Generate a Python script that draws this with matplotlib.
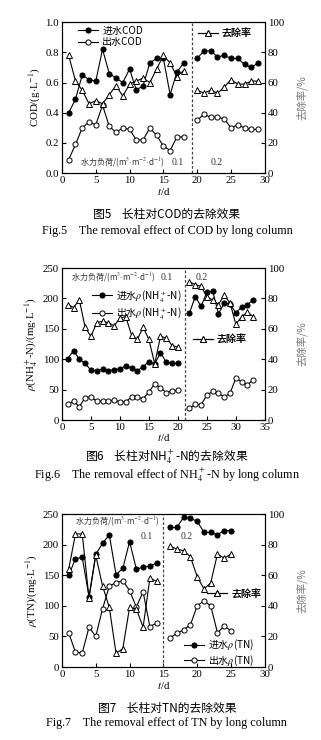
import matplotlib.pyplot as plt
import numpy as np
from matplotlib.lines import Line2D

plt.rcParams['font.family'] = ['Liberation Serif', 'Noto Sans CJK SC']
plt.rcParams['mathtext.fontset'] = 'stix'
plt.rcParams['font.size'] = 7.5
plt.rcParams['xtick.direction'] = 'in'
plt.rcParams['ytick.direction'] = 'in'
plt.rcParams['axes.linewidth'] = 0.8
plt.rcParams['xtick.major.size'] = 3
plt.rcParams['ytick.major.size'] = 3

# ---- COD ----
dias_cod1 = np.arange(1, 19)
cod_in1 = [0.40, 0.49, 0.65, 0.62, 0.61, 0.82, 0.66, 0.63, 0.60, 0.69, 0.55, 0.58, 0.73, 0.76, 0.76, 0.52, 0.67, 0.73]
cod_out1 = [0.09, 0.19, 0.30, 0.34, 0.32, 0.45, 0.31, 0.27, 0.30, 0.29, 0.22, 0.22, 0.30, 0.25, 0.18, 0.15, 0.24, 0.24]
cod_rem1 = [78, 61, 55, 46, 48, 46, 52, 58, 51, 59, 61, 63, 60, 69, 78, 73, 64, 68]
dias_cod2 = np.arange(20, 30)
cod_in2 = [0.76, 0.81, 0.81, 0.77, 0.78, 0.76, 0.76, 0.72, 0.70, 0.73]
cod_out2 = [0.35, 0.39, 0.37, 0.37, 0.36, 0.30, 0.32, 0.30, 0.29, 0.29]
cod_rem2 = [55, 53, 55, 53, 57, 62, 59, 59, 61, 61]

# ---- NH4+-N ----
dias_nh1 = np.arange(1, 21)
nh_in1 = [101, 114, 100, 93, 82, 81, 84, 81, 83, 84, 89, 86, 81, 88, 96, 92, 111, 95, 93, 93]
nh_out1 = [26, 31, 22, 37, 38, 31, 31, 31, 33, 30, 30, 38, 38, 35, 46, 60, 53, 45, 48, 49]
nh_rem1 = [76, 74, 79, 61, 55, 64, 65, 64, 62, 67, 68, 56, 53, 61, 53, 37, 55, 54, 49, 48]
dias_nh2 = np.arange(22, 34)
nh_in2 = [176, 203, 187, 210, 212, 175, 192, 191, 176, 186, 190, 198]
nh_out2 = [19, 26, 25, 41, 47, 44, 38, 44, 69, 63, 58, 66]
nh_rem2 = [91, 89, 88, 81, 79, 76, 82, 77, 63, 68, 71, 68]

# ---- TN ----
dias_tn1 = np.arange(1, 15)
tn_in1 = [150, 177, 179, 115, 184, 202, 216, 151, 161, 205, 160, 163, 165, 170]
tn_out1 = [56, 24, 23, 65, 50, 95, 132, 138, 141, 125, 98, 123, 66, 72]
tn_rem1 = [64, 87, 87, 45, 73, 53, 39, 9, 12, 39, 38, 26, 58, 56]
dias_tn2 = np.arange(16, 26)
tn_in2 = [228, 228, 245, 243, 238, 220, 220, 216, 223, 223]
tn_out2 = [48, 55, 61, 69, 100, 108, 100, 56, 67, 59]
tn_rem2 = [79, 77, 76, 72, 59, 51, 55, 74, 71, 74]

cjk = ['Noto Sans CJK SC', 'DejaVu Sans']
gris = '#777777'
lw = 0.8
ms = 3.7
tam = 7.8

fig = plt.figure(figsize=(3.21, 7.40), dpi=100)


def panel(rect, segs, xmax, ymax, ystep, xsep, ylabel):
    ax = fig.add_axes(rect)
    axr = ax.twinx()
    for d, a, b, r in segs:
        ax.plot(d, a, '-o', color='k', lw=lw, ms=ms, mfc='k', mec='k', mew=0.7)
        ax.plot(d, b, '-o', color='k', lw=lw, ms=ms, mfc='white', mec='k', mew=0.7)
        axr.plot(d, r, '-^', color='k', lw=lw, ms=ms + 0.4, mfc='white', mec='k', mew=0.7)
    ax.axvline(xsep, color='#444444', lw=0.9, ls=(0, (2.2, 1.6)))
    ax.set_xlim(0, xmax)
    ax.set_ylim(0, ymax)
    axr.set_ylim(0, 100)
    ax.set_xticks(np.arange(0, xmax + 1, 5))
    ax.set_yticks(np.arange(0, ymax + ystep / 2, ystep))
    axr.set_yticks(np.arange(0, 101, 20))
    ax.tick_params(labelsize=tam, pad=2, width=0.8)
    axr.tick_params(labelsize=tam, pad=2, width=0.8)
    ax.set_xlabel(r'$t$/d', fontsize=tam, labelpad=0.5)
    ax.set_ylabel(ylabel, fontsize=tam, labelpad=2)
    axr.set_ylabel('去除率/%', family=cjk, fontsize=7.5, color=gris, labelpad=9)
    return ax, axr


def leyenda(ax, etiquetas, estilos, pos):
    h = []
    for fc, mk in estilos:
        h.append(Line2D([], [], color='k', lw=lw, marker=mk, ms=ms, mfc=fc, mec='k', mew=0.7))
    lg = ax.legend(h, etiquetas, loc='upper left', bbox_to_anchor=pos, frameon=False,
                   handlelength=2.0, handletextpad=0.4, labelspacing=0.15, borderpad=0,
                   borderaxespad=0, prop={'family': cjk, 'size': 7.2})
    ax.add_artist(lg)


def carga(ax, x, y, x1, y1, x2):
    ax.text(x, y, r'水力负荷/(m$^3$$\cdot$m$^{-2}$$\cdot$d$^{-1}$)', transform=ax.transAxes,
            family=cjk, fontsize=5.8, color='#333333', va='center')
    ax.text(x1, y1, '0.1', transform=ax.transAxes, fontsize=7, color='#333333', va='center', ha='center')
    ax.text(x2, y1, '0.2', transform=ax.transAxes, fontsize=7, color='#333333', va='center', ha='center')


def pie(yc, ye, zh, en):
    fig.text(0.52, 1 - yc / 740, zh, family=['Noto Sans CJK SC'], fontsize=8.5, ha='center', va='center')
    fig.text(0.52, 1 - ye / 740, en, fontsize=8.7, ha='center', va='center')


# Fig.5 COD
ax, axr = panel([0.193, 0.766, 0.632, 0.204],
                [(dias_cod1, cod_in1, cod_out1, cod_rem1), (dias_cod2, cod_in2, cod_out2, cod_rem2)],
                30, 1.0, 0.2, 19.2, r'COD/(g$\cdot$L$^{-1}$)')
ax.set_yticklabels(['0.0', '0.2', '0.4', '0.6', '0.8', '1.0'])
leyenda(ax, ['进水COD', '出水COD'], [('k', 'o'), ('white', 'o')], (0.08, 0.975))
leyenda(ax, ['去除率'], [('white', '^')], (0.67, 0.96))
carga(ax, 0.09, 0.07, 0.57, 0.07, 0.765)
pie(214, 231, '图5    长柱对COD的去除效果', 'Fig.5    The removal effect of COD by long column')

# Fig.6 NH4+-N
ax, axr = panel([0.193, 0.4324, 0.632, 0.2054],
                [(dias_nh1, nh_in1, nh_out1, nh_rem1), (dias_nh2, nh_in2, nh_out2, nh_rem2)],
                35, 250, 50, 21.2, r'$\rho$(NH$_4^+$-N)/(mg$\cdot$L$^{-1}$)')
leyenda(ax, [r'进水$\rho$(NH$_4^+$-N)', r'出水$\rho$(NH$_4^+$-N)'], [('k', 'o'), ('white', 'o')], (0.15, 0.87))
leyenda(ax, ['去除率'], [('white', '^')], (0.645, 0.565))
carga(ax, 0.045, 0.94, 0.515, 0.94, 0.69)
pie(457, 475, r'图6    长柱对NH$_4^+$-N的去除效果',
    r'Fig.6    The removal effect of NH$_4^+$-N by long column')

# Fig.7 TN
ax, axr = panel([0.193, 0.0986, 0.632, 0.2068],
                [(dias_tn1, tn_in1, tn_out1, tn_rem1), (dias_tn2, tn_in2, tn_out2, tn_rem2)],
                30, 250, 50, 15, r'$\rho$(TN)/(mg$\cdot$L$^{-1}$)')
leyenda(ax, [r'进水$\rho$(TN)', r'出水$\rho$(TN)'], [('k', 'o'), ('white', 'o')], (0.60, 0.19))
leyenda(ax, ['去除率'], [('white', '^')], (0.715, 0.51))
carga(ax, 0.065, 0.955, 0.42, 0.856, 0.615)
pie(708, 723, '图7    长柱对TN的去除效果', 'Fig.7    The removal effect of TN by long column')

fig.savefig('out.png', dpi=100, facecolor='white')
